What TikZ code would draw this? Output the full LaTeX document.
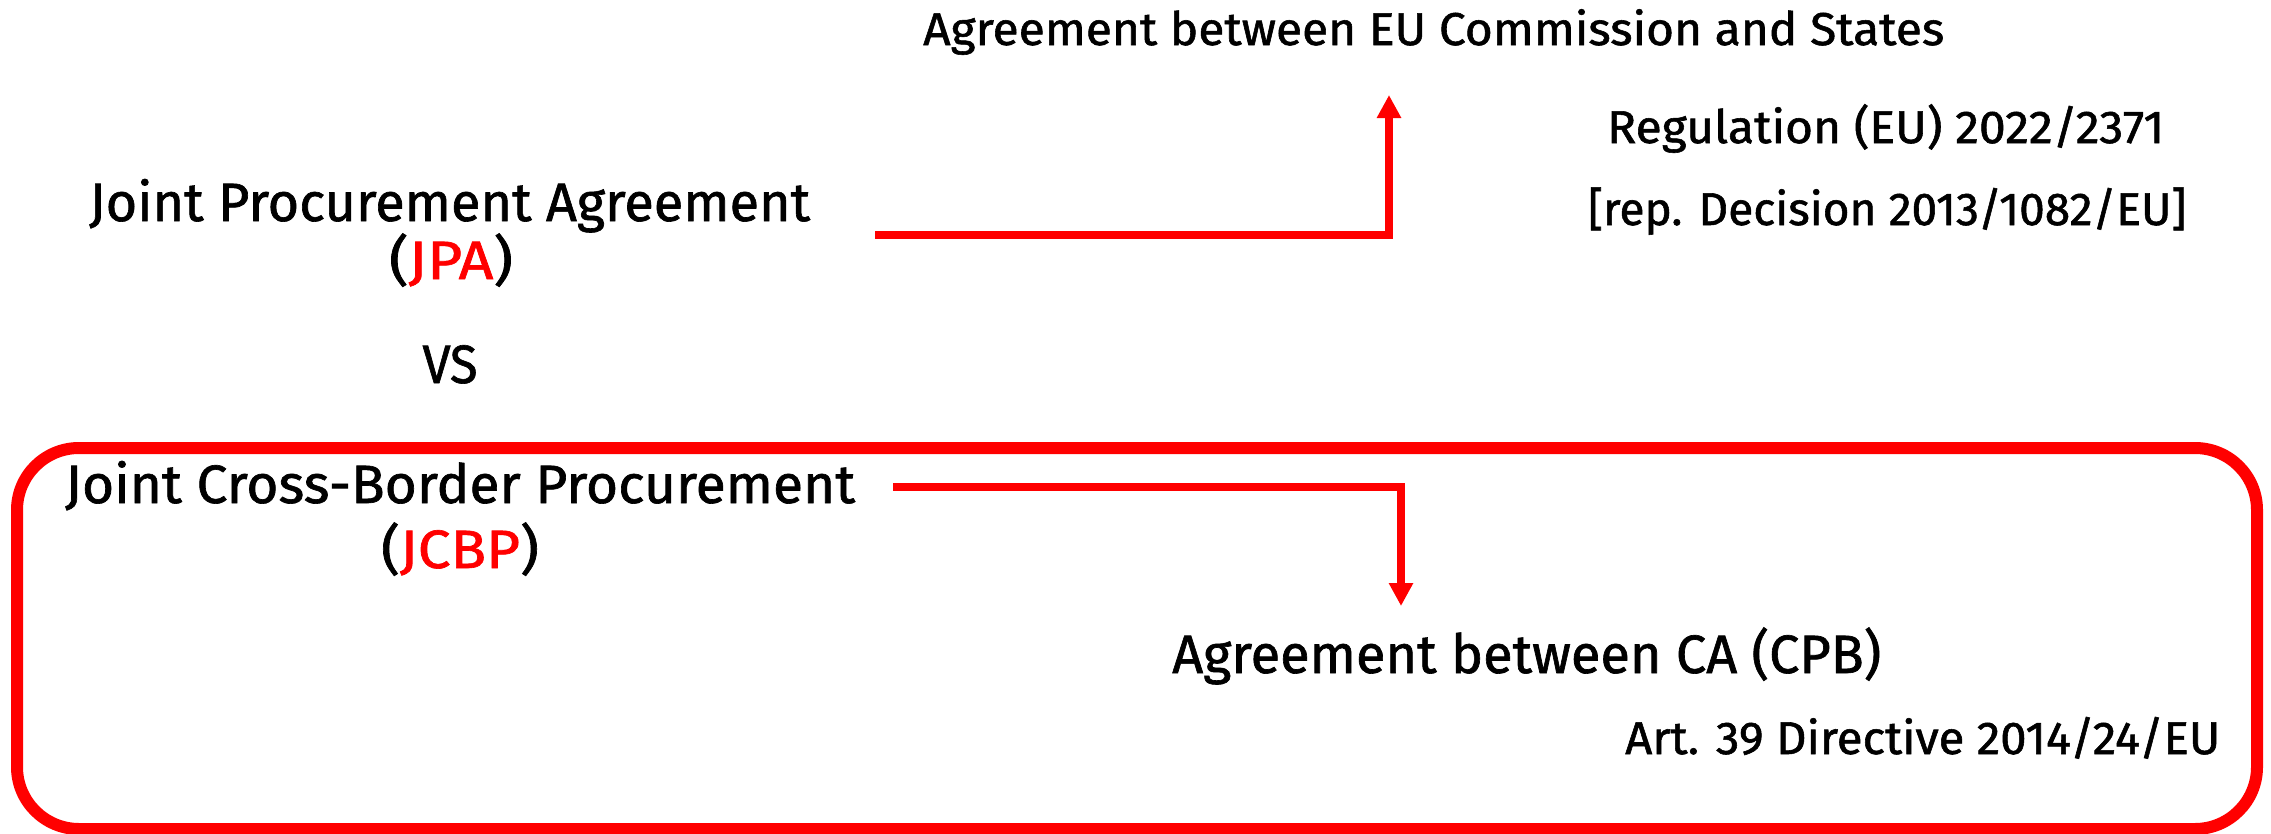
\documentclass[tikz,border=0pt]{standalone}
\usepackage{fontspec}
\setmainfont{Fira Sans}[FakeBold=1.2,UprightFeatures={FakeBold=1.2}]
\usetikzlibrary{arrows.meta}
\definecolor{pred}{RGB}{255,0,0}
\newcommand\fitw[2]{\resizebox{#1}{\height}{#2}}
\begin{document}
\begin{tikzpicture}[x=1pt,y=-1pt,
  lbl/.style={inner sep=0pt,anchor=base west},
  ctr/.style={inner sep=0pt,anchor=base},
  big/.style={font=\fontsize{54}{62}\selectfont},
  small/.style={font=\fontsize{46}{54}\selectfont},
  conn/.style={draw=pred,line width=7.5pt,-{Triangle[length=23pt,width=23pt]}},
  frame/.style={draw=pred,line width=12pt,rounded corners=62pt}
]
\useasboundingbox (0,0) rectangle (2271,833);
\fill[white] (0,0) rectangle (2271,833);

\draw[frame] (17,448) rectangle (2257,829);

\node[lbl,small] (top) at (923,45) {\fitw{1021pt}{Agreement between EU Commission and States}};
\node[lbl,small] (reg) at (1607,143) {\fitw{557pt}{Regulation (EU) 2022/2371}};
\node[lbl,small] (rep) at (1588,225) {\fitw{598pt}{[rep. Decision 2013/1082/EU]}};
\node[lbl,big] (jpa) at (89,221) {\fitw{721pt}{Joint Procurement Agreement}};
\node[ctr,big] (jpaab) at (451,279) {\fitw{124pt}{(\textcolor{pred}{JPA})}};
\node[ctr,big] (vs) at (450,383) {\fitw{55pt}{VS}};
\node[lbl,big] (jcbp) at (65,503) {\fitw{790pt}{Joint Cross-Border Procurement}};
\node[ctr,big] (jcbpab) at (460,568) {\fitw{158pt}{(\textcolor{pred}{JCBP})}};
\node[lbl,big] (ca) at (1172,673) {\fitw{709pt}{Agreement between CA (CPB)}};
\node[lbl,small] (art) at (1625,754) {\fitw{595pt}{Art. 39 Directive 2014/24/EU}};

\coordinate (s1) at (875,235);
\coordinate (e1) at (1389,95);
\draw[conn] (s1) -| (e1);
\coordinate (s2) at (893,487);
\coordinate (e2) at (1401,606);
\draw[conn] (s2) -| (e2);
\end{tikzpicture}
\end{document}
